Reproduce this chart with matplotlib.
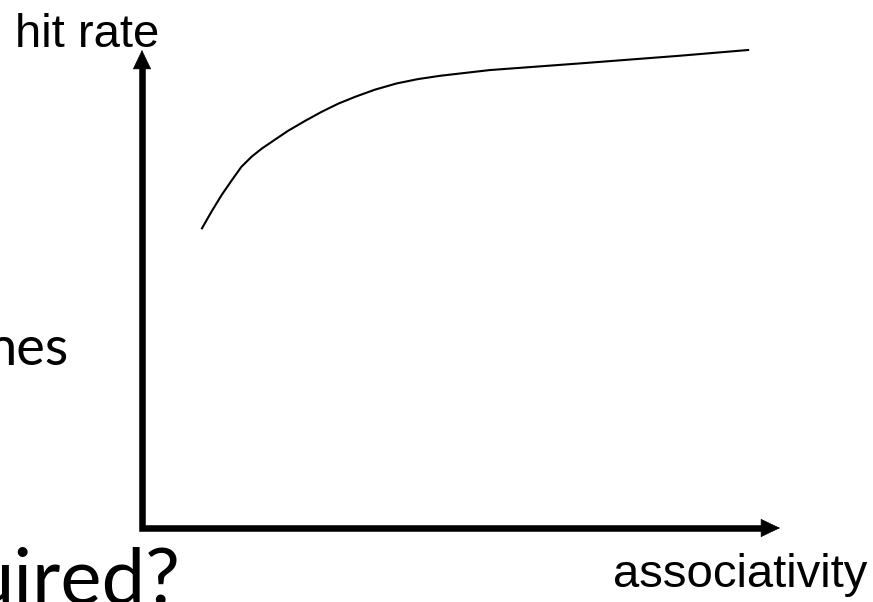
import matplotlib
matplotlib.use("Agg")
import matplotlib.pyplot as plt

# Curve (associativity -> hit rate, arbitrary 0..100 units)
associativity = [9.4, 10.9, 12.5, 14.1, 15.6, 17.2, 18.8, 20.9, 22.9, 25.6,
                 28.2, 30.8, 33.4, 36.5, 39.9, 43.2, 46.7, 54.5, 68.7, 84.3, 95.0]
hit_rate = [62.7, 66.2, 69.7, 72.8, 75.6, 77.7, 79.4, 81.3, 83.1, 85.2,
            87.1, 88.8, 90.2, 91.7, 93.0, 93.9, 94.6, 95.8, 97.2, 98.8, 100.0]

x_label = "associativity"
y_label = "hit rate"
side_texts = ["nes", "uired?"]

W, H = 873, 602
fig = plt.figure(figsize=(W / 100, H / 100), dpi=100)
fig.patch.set_facecolor("white")

# axes origin at pixel (142, 528), arrow tips at x=780 and y=50
ax = fig.add_axes([142 / W, (H - 528) / H, (780 - 142) / W, (528 - 50) / H])
ax.set_xlim(0, 100)
ax.set_ylim(0, 100)
ax.axis("off")

ax.plot(associativity, hit_rate, color="black", lw=1.5, clip_on=False,
        solid_joinstyle="round", antialiased=True)

# L-shaped axis lines
ax.plot([0, 0, 0.974], [0.963, 0, 0], transform=ax.transAxes, color="black",
        lw=4.7, solid_joinstyle="miter", solid_capstyle="butt", clip_on=False)
# arrow heads
head = dict(arrowstyle="-|>,head_length=1.3,head_width=0.62", color="black",
            lw=0.5, mutation_scale=10, shrinkA=0, shrinkB=0)
ax.annotate("", xy=(0, 1.0), xytext=(0, 0.9), xycoords="axes fraction",
            arrowprops=head, annotation_clip=False)
ax.annotate("", xy=(1.0, 0), xytext=(0.9, 0), xycoords="axes fraction",
            arrowprops=head, annotation_clip=False)

arial = ["Liberation Sans", "DejaVu Sans"]
fig.text(15 / W, 1 - 47 / H, y_label, fontsize=34, family=arial,
         ha="left", va="baseline")
fig.text(613 / W, 1 - 587 / H, x_label, fontsize=34, family=arial,
         ha="left", va="baseline")

slide = ["Lato", "DejaVu Sans"]
fig.text(68 / W, 1 - 365 / H, side_texts[0], fontsize=39, family=slide,
         ha="right", va="baseline")
fig.text(181 / W, 1 - 603 / H, side_texts[1], fontsize=56, family=slide,
         ha="right", va="baseline")

fig.savefig("out.png", dpi=100, facecolor="white")
